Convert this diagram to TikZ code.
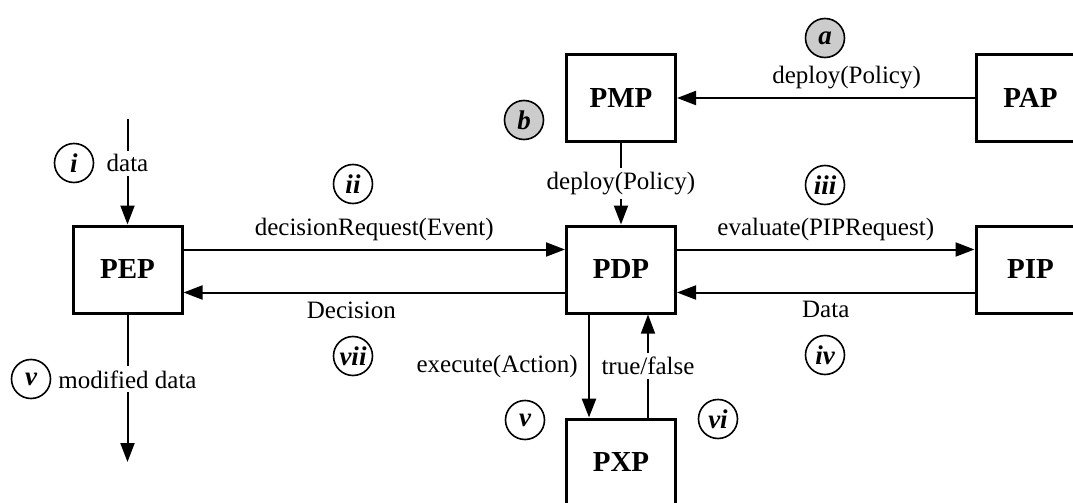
\documentclass[tikz,border=0pt]{standalone}
\usepackage{fontspec}
\setmainfont{Liberation Serif}
\usetikzlibrary{arrows.meta,calc}

\tikzset{
    box/.style={draw, line width=1.5pt, minimum width=54.5pt, minimum height=43.5pt,
        font=\fontsize{14.5}{16}\selectfont\bfseries},
    flow/.style={line width=1pt, -{Triangle[length=9.5pt,width=7pt]}},
    lbl/.style={font=\fontsize{12.5}{14}\selectfont, inner sep=2pt},
    stepnum/.style={circle, draw, line width=0.8pt, minimum size=19.5pt, inner sep=0pt,
        font=\fontsize{13.5}{15}\selectfont\bfseries\itshape},
    stepgray/.style={stepnum, fill=gray!40}
}

\begin{document}
\begin{tikzpicture}[x=0.5pt, y=-0.5pt]
    \clip (0,0) rectangle (1073,503);

    %% The components
    \node[box] (PEP) at (127.5,269.5) {PEP};
    \node[box] (PDP) at (621,269.5) {PDP};
    \node[box] (PIP) at (1030.5,269.5) {PIP};
    \node[box] (PMP) at (621,98) {PMP};
    \node[box] (PAP) at (1030.5,98) {PAP};
    \node[box] (PXP) at (621,462.5) {PXP};
    \coordinate (in) at (127.5,119);
    \coordinate (out) at (127.5,462);

    %% Policy deployment
    \draw[flow] (PAP) -- (PMP) node[lbl, pos=0.43, above=2pt] {deploy(Policy)};
    \draw[flow] (PMP) -- (PDP) node[lbl, midway, fill=white] {deploy(Policy)};

    %% The data flow
    \draw[flow] (in) -- (PEP) node[lbl, pos=0.42, fill=white] {data};
    \draw[flow] (PEP) -- (out) node[lbl, pos=0.44, fill=white] {modified data};
    \draw[flow] ($(PEP.east)+(0,-20)$) -- ($(PDP.west)+(0,-20)$)
        node[lbl, midway, above=2pt] {decisionRequest(Event)};
    \draw[flow] ($(PDP.west)+(0,23)$) -- ($(PEP.east)+(0,23)$)
        node[lbl, pos=0.56, below=2pt] {Decision};
    \draw[flow] ($(PDP.east)+(0,-20)$) -- ($(PIP.west)+(0,-20)$)
        node[lbl, midway, above=2pt] {evaluate(PIPRequest)};
    \draw[flow] ($(PIP.west)+(0,23)$) -- ($(PDP.east)+(0,23)$)
        node[lbl, midway, below=2pt] {Data};
    \draw[flow, line width=1.4pt] ($(PDP.south)+(-32,0)$) -- ($(PXP.north)+(-32,0)$)
        node[lbl, midway, left=3pt] {execute(Action)};
    \draw[flow, line width=0.7pt] ($(PXP.north)+(27,0)$) -- ($(PDP.south)+(27,0)$)
        node[lbl, midway, fill=white] {true/false};

    %% The steps
    \node[stepgray] (ca) at (825,38) {a};
    \node[stepgray] (cb) at (524,120) {b};
    \node[stepnum] (ci) at (74,163) {i};
    \node[stepnum] (cii) at (353,184) {ii};
    \node[stepnum] (ciii) at (825,185) {iii};
    \node[stepnum] (civ) at (825,355) {iv};
    \node[stepnum] (cv) at (31,379) {v};
    \node[stepnum] (cvb) at (525,420) {v};
    \node[stepnum] (cvi) at (718,419) {vi};
    \node[stepnum] (cvii) at (353,356) {vii};
\end{tikzpicture}
\end{document}
